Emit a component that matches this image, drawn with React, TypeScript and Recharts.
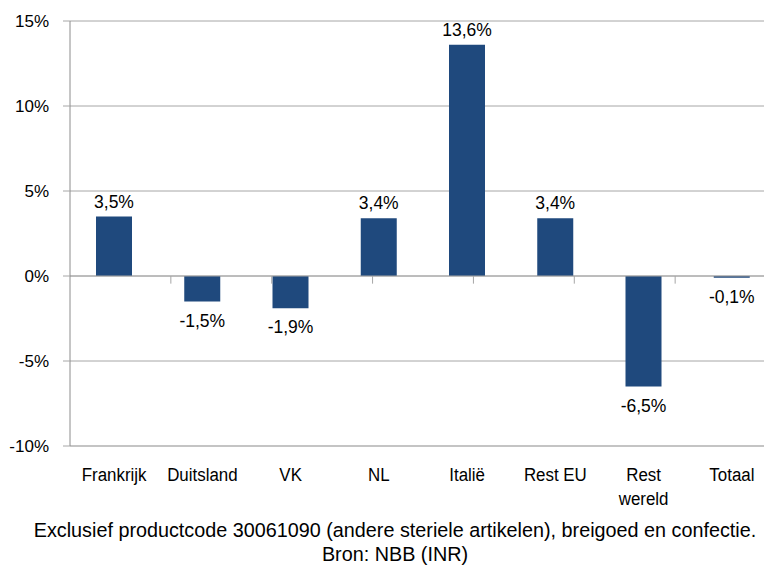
import { BarChart, Bar, XAxis, YAxis, CartesianGrid, ReferenceLine, LabelList } from 'recharts';

const categories = ['Frankrijk', 'Duitsland', 'VK', 'NL', 'Italië', 'Rest EU', 'Rest\nwereld', 'Totaal'];
const growth = [3.5, -1.5, -1.9, 3.4, 13.6, 3.4, -6.5, -0.1];
const yTicks = [-10, -5, 0, 5, 10, 15];
const footnote = 'Exclusief productcode 30061090 (andere steriele artikelen), breigoed en confectie.';
const source = 'Bron: NBB (INR)';

const data = categories.map((name, i) => ({ name, value: growth[i] }));
const boundaries = categories.slice(1).map((_, i) => i + 1);

const FONT = '"Liberation Sans", Arial, sans-serif';
const BAR = '#1F497D';

const fmt = (v: number) => `${v.toFixed(1).replace('.', ',')}%`;

// category labels look condensed in the original, squeeze them a bit
function CategoryTick({ x, y, payload }: any) {
  const lines = String(payload.value).split('\n');
  return (
    <g transform={`translate(${x},${y}) scale(0.89,1)`}>
      <text x={0} y={0} textAnchor="middle" fontSize={19} fontFamily={FONT} fill="#000">
        {lines.map((l, i) => (
          <tspan key={i} x={0} dy={i === 0 ? 27 : 24}>
            {l}
          </tspan>
        ))}
      </text>
    </g>
  );
}

function ValueLabel({ x, y, width, height, value }: any) {
  const top = Math.min(y, y + height);
  const bottom = Math.max(y, y + height);
  const cx = x + width / 2;
  const ty = value >= 0 ? top - 9 : bottom + 25;
  return (
    <text x={cx} y={ty} textAnchor="middle" fontSize={17.5} fontFamily={FONT} fill="#000">
      {fmt(value)}
    </text>
  );
}

export default function App() {
  return (
    <div style={{ position: 'absolute', left: 0, top: 0, width: 764, height: 570, overflow: 'hidden', background: '#fff', fontFamily: FONT }}>
      <BarChart width={776} height={510} data={data} margin={{ top: 21, right: 0, bottom: 0, left: 0 }}>
        <CartesianGrid vertical={false} stroke="#a6a6a6" />
        <XAxis
          dataKey="name"
          tick={<CategoryTick />}
          tickLine={false}
          axisLine={{ stroke: '#c4c4c4', strokeWidth: 2 }}
          interval={0}
          height={64}
        />
        <XAxis xAxisId="grid" type="number" domain={[0, categories.length]} hide />
        <YAxis
          domain={[-10, 15]}
          ticks={yTicks}
          width={70}
          tickFormatter={(v: number) => `${v}%`}
          tick={{ fontSize: 17, fontFamily: FONT, fill: '#000' }}
          tickSize={7}
          tickMargin={14}
          tickLine={{ stroke: '#a6a6a6' }}
          axisLine={{ stroke: '#8c8c8c' }}
          allowDataOverflow
        />
        <ReferenceLine y={0} stroke="#a6a6a6" />
        {boundaries.map((b) => (
          <ReferenceLine
            key={b}
            xAxisId="grid"
            segment={[{ x: b, y: 0 }, { x: b, y: -0.45 }]}
            stroke="#a6a6a6"
          />
        ))}
        <Bar dataKey="value" fill={BAR} barSize={36} isAnimationActive={false}>
          <LabelList dataKey="value" content={<ValueLabel />} />
        </Bar>
      </BarChart>
      <div
        style={{
          position: 'absolute',
          left: 0,
          top: 518,
          width: 790,
          textAlign: 'center',
          fontSize: 20.5,
          lineHeight: '24px',
          color: '#000',
          whiteSpace: 'nowrap',
          transform: 'scaleX(0.965)',
          transformOrigin: '395px 0',
        }}
      >
        <div>{footnote}</div>
        <div>{source}</div>
      </div>
    </div>
  );
}
